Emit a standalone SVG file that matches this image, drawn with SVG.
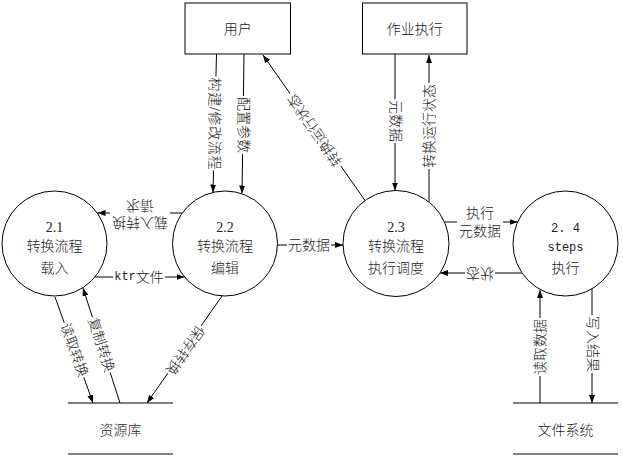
<svg xmlns="http://www.w3.org/2000/svg" width="623" height="460" viewBox="0 0 623 460">
<defs>
<marker id="arr" viewBox="0 0 8 6" refX="8" refY="3" markerWidth="8" markerHeight="6" orient="auto" markerUnits="userSpaceOnUse">
<path d="M0,0 L8,3 L0,6 z" fill="#000"/>
</marker>
</defs>
<style>
text{font-family:"Liberation Serif","Noto Sans CJK SC",serif;font-size:14px;font-weight:300;fill:#222;text-anchor:middle;}
.mono{font-family:"Liberation Mono","Noto Sans CJK SC",monospace;font-size:12px;}
.lbl{dominant-baseline:central;}
.node{fill:#fff;stroke:#000;stroke-width:1;}
.ln{stroke:#000;stroke-width:1;fill:none;marker-end:url(#arr);}
.bg{fill:#fff;}
.top{stroke:#000;stroke-width:1;}
.bot{stroke:#808080;stroke-width:2;}
</style>
<rect width="623" height="460" fill="#fff"/>
<g id="connectors">
<line class="ln" x1="216.5" y1="54" x2="213" y2="192.5"/>
<line class="ln" x1="244" y1="54" x2="242" y2="193.5"/>
<line class="ln" x1="365" y1="200.5" x2="263" y2="55"/>
<line class="ln" x1="395" y1="54" x2="395" y2="190.5"/>
<line class="ln" x1="429" y1="202" x2="429" y2="55"/>
<line class="ln" x1="182.5" y1="213" x2="97.5" y2="213"/>
<line class="ln" x1="95" y1="277" x2="184.5" y2="277"/>
<line class="ln" x1="277.7" y1="245" x2="343" y2="245"/>
<line class="ln" x1="444.4" y1="222" x2="517.6" y2="222"/>
<line class="ln" x1="522" y1="273" x2="440" y2="273"/>
<line class="ln" x1="540" y1="403" x2="540" y2="290"/>
<line class="ln" x1="592" y1="289" x2="592" y2="403"/>
<line class="ln" x1="55" y1="297" x2="93" y2="403"/>
<line class="ln" x1="120" y1="403" x2="83" y2="288"/>
<line class="ln" x1="222" y1="296" x2="147" y2="403"/>
<g transform="translate(214.5,123.5) rotate(90)"><rect class="bg" x="-47" y="-8" width="94" height="16"/><text class="lbl" textLength="92" lengthAdjust="spacing">构建/修改流程</text></g>
<g transform="translate(243,125) rotate(90)"><rect class="bg" x="-29" y="-8" width="58" height="16"/><text class="lbl">配置参数</text></g>
<g transform="translate(315,130) rotate(-125)"><rect class="bg" x="-44" y="-8" width="88" height="16"/><text class="lbl">转换运行状态</text></g>
<g transform="translate(395,121) rotate(90)"><rect class="bg" x="-22" y="-8" width="44" height="16"/><text class="lbl">元数据</text></g>
<g transform="translate(429,126) rotate(-90)"><rect class="bg" x="-43" y="-8" width="86" height="16"/><text class="lbl">转换运行状态</text></g>
<g transform="translate(140,214) rotate(180)"><rect class="bg" x="-30" y="-17" width="60" height="34"/><text class="lbl" y="-8.5">载入转换</text><text class="lbl" y="8.5">请求</text></g>
<g transform="translate(139,277)"><rect class="bg" x="-26" y="-8" width="52" height="16"/><text class="lbl"><tspan class="mono">ktr</tspan>文件</text></g>
<g transform="translate(309,245)"><rect class="bg" x="-22" y="-8" width="44" height="16"/><text class="lbl">元数据</text></g>
<g transform="translate(480,222)"><rect class="bg" x="-23" y="-18" width="46" height="36"/><text class="lbl" y="-9">执行</text><text class="lbl" y="9">元数据</text></g>
<g transform="translate(480,273) rotate(180)"><rect class="bg" x="-15" y="-8" width="30" height="16"/><text class="lbl">状态</text></g>
<g transform="translate(540,347) rotate(-90)"><rect class="bg" x="-29" y="-8" width="58" height="16"/><text class="lbl">读取数据</text></g>
<g transform="translate(592,344) rotate(90)"><rect class="bg" x="-29" y="-8" width="58" height="16"/><text class="lbl">写入结果</text></g>
<g transform="translate(74,350) rotate(70)"><rect class="bg" x="-29" y="-8" width="58" height="16"/><text class="lbl">读取转换</text></g>
<g transform="translate(101,345) rotate(72)"><rect class="bg" x="-29" y="-8" width="58" height="16"/><text class="lbl">复制转换</text></g>
<g transform="translate(185,350) rotate(125)"><rect class="bg" x="-29" y="-8" width="58" height="16"/><text class="lbl">保存转换</text></g>
</g>
<g id="user"><rect class="node" x="185" y="3" width="105.5" height="51"/><text x="237.8" y="34">用户</text></g>
<g id="job"><rect class="node" x="362.5" y="3" width="104.5" height="51"/><text x="414.8" y="34">作业执行</text></g>
<g id="p21"><circle class="node" cx="54.5" cy="243.5" r="52.5"/><text x="54.5" y="232">2.1</text><text x="54.5" y="251">转换流程</text><text x="54.5" y="273">载入</text></g>
<g id="p22"><circle class="node" cx="225" cy="243.5" r="52.5"/><text x="225" y="232">2.2</text><text x="225" y="251">转换流程</text><text x="225" y="273">编辑</text></g>
<g id="p23"><circle class="node" cx="396" cy="243.5" r="53"/><text x="396" y="232">2.3</text><text x="396" y="251">转换流程</text><text x="396" y="273">执行调度</text></g>
<g id="p24"><circle class="node" cx="565.5" cy="243.5" r="52.5"/><text class="mono" x="565.5" y="232">2. 4</text><text class="mono" x="565.5" y="251">steps</text><text x="565.5" y="273">执行</text></g>
<g id="repo"><line class="top" x1="68" y1="403" x2="173" y2="403"/><line class="bot" x1="68" y1="454" x2="173" y2="454"/><text x="120.5" y="435">资源库</text></g>
<g id="fs"><line class="top" x1="513" y1="403" x2="618" y2="403"/><line class="bot" x1="513" y1="454" x2="618" y2="454"/><text x="565.5" y="435">文件系统</text></g>
</svg>
